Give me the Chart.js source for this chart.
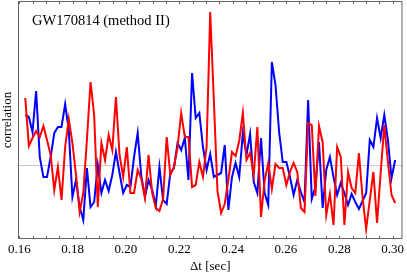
<!DOCTYPE html>
<html>
<head>
<meta charset="utf-8">
<script src="https://cdn.jsdelivr.net/npm/chart.js@4/dist/chart.umd.min.js"></script>
<style>
  html, body { margin: 0; padding: 0; background: #fff; }
  #wrap { width: 407px; height: 273px; }
</style>
</head>
<body>
<div id="wrap"><canvas id="corrChart" width="407" height="273"></canvas></div>
<script>
// Sample times (sec)
const times = [
  0.16225, 0.16361, 0.16497, 0.16633, 0.16769, 0.16905, 0.17041, 0.17177, 0.17313, 0.17449,
  0.17585, 0.17721, 0.17857, 0.17993, 0.18129, 0.18265, 0.18401, 0.18537, 0.18673, 0.18809,
  0.18945, 0.19081, 0.19217, 0.19353, 0.19489, 0.19625, 0.19761, 0.19897, 0.20033, 0.20169,
  0.20305, 0.20441, 0.20577, 0.20713, 0.20849, 0.20985, 0.21121, 0.21257, 0.21393, 0.21529,
  0.21665, 0.21801, 0.21937, 0.22073, 0.22209, 0.22345, 0.22481, 0.22617, 0.22753, 0.22889,
  0.23025, 0.23161, 0.23297, 0.23433, 0.23569, 0.23705, 0.23841, 0.23977, 0.24113, 0.24249,
  0.24385, 0.24521, 0.24657, 0.24793, 0.24929, 0.25065, 0.25201, 0.25337, 0.25473, 0.25609,
  0.25745, 0.25881, 0.26017, 0.26153, 0.26289, 0.26425, 0.26561, 0.26697, 0.26833, 0.26969,
  0.27105, 0.27241, 0.27377, 0.27513, 0.27649, 0.27785, 0.27921, 0.28057, 0.28193, 0.28329,
  0.28465, 0.28601, 0.28737, 0.28873, 0.29009, 0.29145, 0.29281, 0.29417, 0.29553, 0.29689,
  0.29825, 0.29961, 0.30097
];

// Red curve
const redCorr = [
  0.67, 0.19, 0.27, 0.34, 0.28, 0.39, 0.25, 0.10, -0.25, -0.02,
  -0.35, 0.18, 0.46, 0.22, -0.10, -0.47, -0.28, 0.25, 0.83, 0.50,
  -0.42, 0.22, 0.05, 0.30, 0.15, 0.68, 0.10, -0.12, 0.18, -0.28,
  -0.28, -0.05, -0.14, -0.33, 0.10, -0.28, -0.43, -0.46, -0.34, 0.28,
  -0.10, -0.02, 0.18, 0.52, 0.28, 0.28, -0.22, -0.20, 0.03, -0.12,
  0.18, 1.53, 0.65, -0.26, -0.48, -0.39, -0.15, 0.13, 0.09, 0.24,
  0.52, 0.05, 0.12, -0.10, 0.38, -0.52, -0.16, 0.02, -0.24, 0.01,
  -0.03, -0.03, -0.20, -0.07, 0.02, -0.07, -0.43, -0.47, 0.42, 0.40,
  -0.31, 0.39, 0.23, -0.50, -0.29, -0.60, 0.18, 0.08, -0.60, -0.07,
  -0.23, -0.28, 0.12, -0.32, -0.64, -0.35, -0.07, -0.58, -0.08, 0.40,
  0.03, -0.30, -0.38
];

// Blue curve
const blueCorr = [
  0.50, 0.48, 0.33, 0.74, 0.08, -0.12, -0.12, 0.08, 0.32, 0.38,
  0.38, 0.61, 0.35, -0.32, -0.15, -0.42, -0.55, -0.03, -0.42, -0.37,
  0.00, -0.28, -0.15, -0.26, -0.10, 0.13, -0.08, -0.28, -0.20, -0.22,
  0.08, 0.32, -0.11, -0.32, -0.15, -0.25, -0.41, -0.02, -0.35, -0.39,
  -0.08, -0.03, 0.22, 0.15, 0.27, -0.15, 0.92, 0.47, 0.52, 0.18,
  -0.05, 0.11, -0.12, -0.10, -0.08, 0.20, -0.45, -0.12, 0.02, -0.12,
  0.32, 0.10, 0.31, -0.17, -0.28, 0.27, -0.28, -0.40, 1.03, 0.80,
  0.33, 0.03, 0.03, -0.12, -0.30, -0.15, -0.27, -0.37, 0.65, -0.34,
  -0.22, 0.23, -0.43, -0.05, 0.08, -0.12, -0.30, -0.18, -0.28, -0.40,
  -0.29, -0.37, -0.44, -0.36, -0.28, 0.25, 0.18, 0.47, 0.27, 0.50,
  0.25, -0.13, 0.05
];

// Axis settings
const X_MIN = 0.15953;
const X_MAX = 0.30372;
const Y_MIN = -0.74;
const Y_MAX = 1.64;
const X_STEP = 0.005;
const TITLE = 'GW170814 (method II)';
const SERIF = '"Liberation Serif", "Times New Roman", serif';

function toPoints(ys) {
  return ys.map((y, i) => ({ x: times[i], y: y }));
}

// Frame, inward tick marks and the in-plot title
const framePlugin = {
  id: 'framePlugin',
  afterDraw(chart) {
    const { ctx, chartArea: a, scales } = chart;
    const x = scales.x;
    ctx.save();
    ctx.strokeStyle = '#666';
    ctx.lineWidth = 1;
    ctx.strokeRect(a.left + 0.5, a.top + 0.5, a.right - a.left - 1, a.bottom - a.top - 1);
    ctx.beginPath();
    x.ticks.forEach(t => {
      const px = Math.round(x.getPixelForValue(t.value)) + 0.5;
      ctx.moveTo(px, a.bottom);
      ctx.lineTo(px, a.bottom - 3);
      ctx.moveTo(px, a.top);
      ctx.lineTo(px, a.top + 3);
    });
    ctx.stroke();

    ctx.fillStyle = '#000';
    ctx.font = '14.5px ' + SERIF;
    ctx.textBaseline = 'alphabetic';
    ctx.fillText(TITLE, 32, 25);
    ctx.restore();
  }
};

function createChart() {
  const ctx = document.getElementById('corrChart').getContext('2d');
  return new Chart(ctx, {
    type: 'line',
    data: {
      datasets: [
        {
          label: 'red',
          data: toPoints(redCorr),
          borderColor: '#ff0000',
          borderWidth: 2,
          pointRadius: 0,
          tension: 0,
          fill: false,
        },
        {
          label: 'blue',
          data: toPoints(blueCorr),
          borderColor: '#0000ff',
          borderWidth: 2,
          pointRadius: 0,
          tension: 0,
          fill: false,
        },
      ],
    },
    options: {
      responsive: false,
      animation: false,
      devicePixelRatio: 1,
      layout: { padding: { top: 1, right: 1.5, left: 0, bottom: 0 } },
      plugins: {
        legend: { display: false },
        tooltip: { enabled: false },
      },
      scales: {
        x: {
          type: 'linear',
          min: X_MIN,
          max: X_MAX,
          border: { display: false },
          grid: { display: false, drawTicks: false },
          ticks: {
            stepSize: X_STEP,
            includeBounds: false,
            autoSkip: false,
            maxRotation: 0,
            padding: 3,
            color: '#000',
            font: { family: SERIF, size: 13 },
            callback: v => {
              const k = Math.round(v * 1000);
              return k % 20 === 0 ? (k / 1000).toFixed(2) : '';
            },
          },
          title: {
            display: true,
            text: 'Δt [sec]',
            color: '#000',
            font: { family: SERIF, size: 13, lineHeight: 1 },
            padding: 0,
          },
          afterFit: s => { s.height = 34; },
        },
        y: {
          min: Y_MIN,
          max: Y_MAX,
          border: { display: false },
          grid: {
            drawTicks: false,
            color: c => (c.tick && Math.abs(c.tick.value) < 1e-9 ? '#c8c8c8' : 'rgba(0,0,0,0)'),
            lineWidth: 1,
          },
          ticks: { display: false, stepSize: 1, includeBounds: false },
          title: {
            display: true,
            text: 'correlation',
            color: '#000',
            font: { family: SERIF, size: 13 },
            padding: 0,
          },
          afterFit: s => { s.width = 18; },
        },
      },
    },
    plugins: [framePlugin],
  });
}

createChart();
</script>
</body>
</html>
